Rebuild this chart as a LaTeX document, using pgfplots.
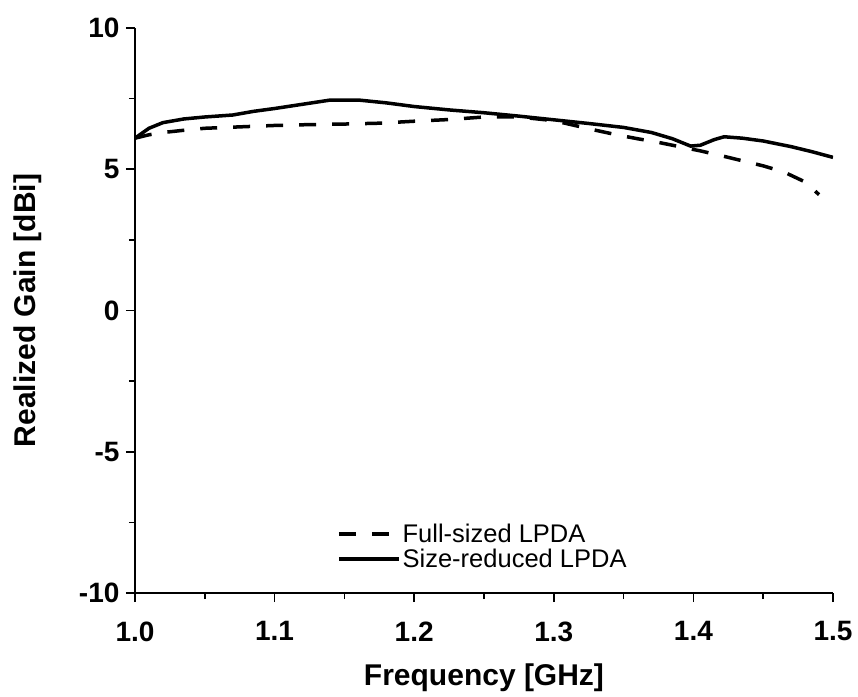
\documentclass[border=0pt]{standalone}
\usepackage{pgfplots}
\pgfplotsset{compat=1.18}
\usepackage{fontspec}
\setmainfont{Liberation Sans}
\begin{document}
\begin{tikzpicture}
\begin{axis}[
  scale only axis,
  width=698pt, height=565pt,
  xmin=1.0, xmax=1.5, ymin=-10, ymax=10,
  axis x line*=bottom, axis y line*=left,
  axis line style={line width=1.8pt, -},
  xtick={1.0,1.1,1.2,1.3,1.4,1.5},
  ytick={-10,-5,0,5,10},
  minor xtick={1.05,1.15,1.25,1.35,1.45},
  minor ytick={-7.5,-2.5,2.5,7.5},
  tick align=outside,
  major tick length=9pt, minor tick length=6pt,
  every tick/.style={line width=1.6pt, black},
  xticklabel style={/pgf/number format/fixed, /pgf/number format/fixed zerofill, /pgf/number format/precision=1, yshift=-16pt},
  /pgf/number format/assume math mode=true,
  ticklabel style={font=\fontsize{28}{32}\selectfont\bfseries},
  yticklabel style={xshift=-3pt},
  xlabel={Frequency [GHz]},
  ylabel={Realized Gain [dBi]},
  label style={font=\fontsize{30}{34}\selectfont\bfseries},
  xlabel style={yshift=-15pt},
  ylabel style={yshift=30pt},
  legend style={draw=none, fill=none, at={(0.285,0.035)}, anchor=south west,
    font=\fontsize{25.5}{30}\selectfont, row sep=1pt,
    /tikz/every even column/.append style={column sep=4pt}},
  legend cell align=left,
  legend image code/.code={\draw[#1, line width=3.5pt] (0pt,0pt) -- (60pt,0pt);},
]
\addplot[black, line width=3.5pt, dash pattern=on 17pt off 16pt] coordinates {
(1.000,6.10) (1.010,6.22) (1.020,6.30) (1.035,6.38) (1.050,6.45) (1.075,6.50)
(1.100,6.55) (1.125,6.58) (1.150,6.60) (1.175,6.63) (1.200,6.70) (1.225,6.76)
(1.250,6.85) (1.275,6.85) (1.300,6.72) (1.315,6.55) (1.330,6.38) (1.345,6.22)
(1.360,6.08) (1.375,5.95) (1.390,5.80) (1.405,5.65) (1.420,5.48) (1.435,5.30)
(1.450,5.12) (1.465,4.90) (1.480,4.55) (1.490,4.10)
};
\addlegendentry{Full-sized LPDA}
\addplot[black, line width=3.5pt, solid] coordinates {
(1.000,6.10) (1.010,6.45) (1.020,6.65) (1.035,6.78) (1.050,6.85) (1.070,6.92)
(1.085,7.05) (1.100,7.15) (1.120,7.30) (1.140,7.45) (1.160,7.45) (1.180,7.35)
(1.200,7.22) (1.225,7.10) (1.250,7.00) (1.275,6.88) (1.300,6.75) (1.325,6.62)
(1.350,6.48) (1.370,6.30) (1.385,6.08) (1.398,5.82) (1.405,5.85) (1.415,6.05)
(1.422,6.15) (1.435,6.10) (1.450,6.00) (1.470,5.80) (1.485,5.62) (1.500,5.42)
};
\addlegendentry{Size-reduced LPDA}
\coordinate (ll) at (rel axis cs:0,0);
\coordinate (ur) at (rel axis cs:1,1);
\end{axis}
\pgfresetboundingbox
\path[use as bounding box] ([xshift=-135pt,yshift=-103pt]ll) rectangle ([xshift=25pt,yshift=28pt]ur);
\end{tikzpicture}
\end{document}
